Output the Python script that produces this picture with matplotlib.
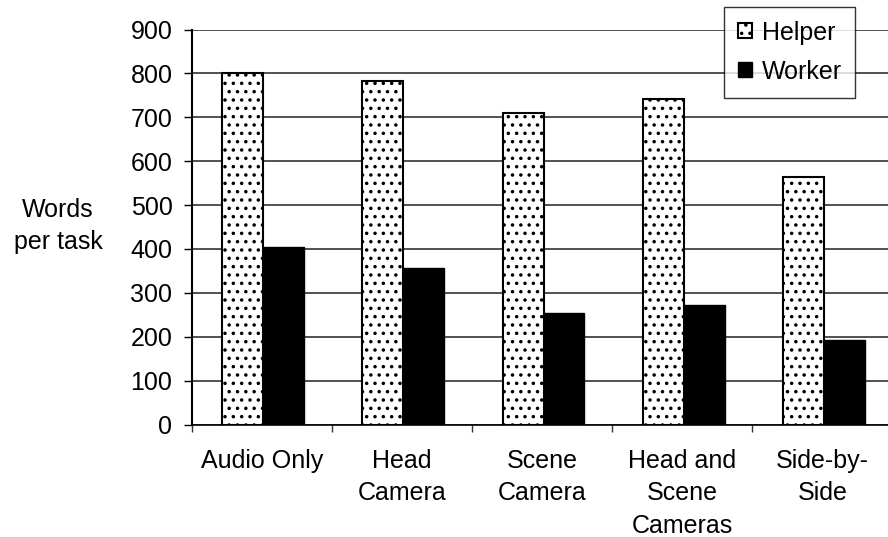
import matplotlib
matplotlib.use("Agg")
import matplotlib.pyplot as plt
import numpy as np

categories = ["Audio Only", "Head\nCamera", "Scene\nCamera", "Head and\nScene\nCameras", "Side-by-\nSide"]
helper = [800, 782, 709, 742, 564]
worker = [404, 356, 254, 272, 192]
yticks = [0, 100, 200, 300, 400, 500, 600, 700, 800, 900]

plt.rcParams['font.family'] = ['Liberation Sans', 'DejaVu Sans']
plt.rcParams['hatch.linewidth'] = 1.3

FS = 18

fig = plt.figure(figsize=(8.88, 5.37), dpi=100)
ax = fig.add_axes([191.6/888, 1-424.5/537, (892.6-191.6)/888, (424.5-29.5)/537])

x = np.arange(len(categories))
w = 0.292
ax.bar(x - w/2 + 0.01, helper, w, color='white', edgecolor='black', hatch='..', linewidth=1.5, label='Helper', zorder=3)
ax.bar(x + w/2 + 0.01, worker, w, color='black', edgecolor='black', linewidth=1, label='Worker', zorder=3)

ax.set_xlim(-0.5, len(categories) - 0.5)
ax.set_ylim(0, 900)
ax.set_yticks(yticks)
ax.set_yticklabels([str(v) for v in yticks], fontsize=FS)
ax.yaxis.grid(True, color='#333333', linewidth=1.2, zorder=0)
ax.set_axisbelow(True)

ax.set_xticks(np.arange(len(categories) + 1) - 0.5)
ax.set_xticklabels([])
ax.set_xticks(x, minor=True)
ax.set_xticklabels(categories, minor=True, fontsize=FS, linespacing=1.45)
ax.tick_params(axis='x', which='minor', length=0, pad=17.5)
ax.tick_params(axis='x', which='major', direction='out', length=5, width=1, color='#333333')
ax.tick_params(axis='y', direction='out', length=5.8, width=1, pad=8)

for s in ['top', 'right']:
    ax.spines[s].set_visible(False)
ax.spines['left'].set_color('black')
ax.spines['left'].set_linewidth(1.5)
ax.spines['bottom'].set_color('black')
ax.spines['bottom'].set_linewidth(1.2)

fig.text(58/888, 1-226/537, "Words\nper task", ha='center', va='center', fontsize=FS, linespacing=1.45)

leg = fig.legend(loc='upper left', bbox_to_anchor=(724/888, 1-7/537), fontsize=FS,
                 frameon=True, fancybox=False, handlelength=0.55, handleheight=0.55,
                 handletextpad=0.4, borderpad=0.55, labelspacing=0.6, borderaxespad=0)
leg.get_frame().set_edgecolor('black')
leg.get_frame().set_linewidth(1.0)

fig.savefig("out.png", dpi=100)
